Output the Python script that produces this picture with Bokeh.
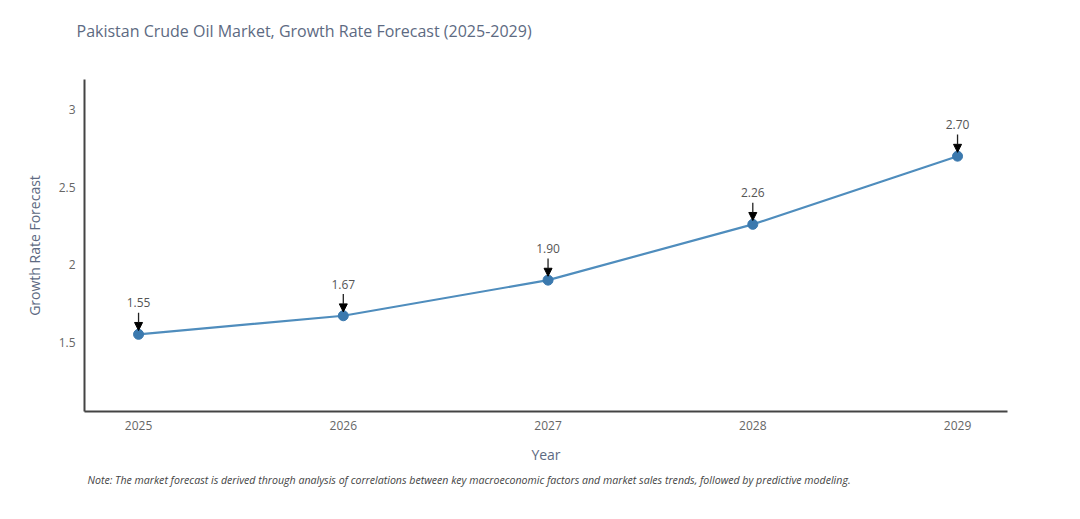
from bokeh.plotting import figure
from bokeh.models import ColumnDataSource, Arrow, NormalHead, FixedTicker, Title, Range1d
from bokeh.core.properties import value
from bokeh.embed import file_html
from bokeh.resources import INLINE

years = [2025, 2026, 2027, 2028, 2029]
growth = [1.55, 1.67, 1.90, 2.26, 2.70]
labels = ["1.55", "1.67", "1.90", "2.26", "2.70"]
y_ticks = [1.5, 2, 2.5, 3]
y_tick_labels = ["1.5", "2", "2.5", "3"]
x_tick_labels = ["2025", "2026", "2027", "2028", "2029"]
title_text = "Pakistan Crude Oil Market, Growth Rate Forecast (2025-2029)"
note_text = ("Note: The market forecast is derived through analysis of correlations between key "
             "macroeconomic factors and market sales trends, followed by predictive modeling.")

FONT = "Open Sans"
TXT = "#5d6a82"

src = ColumnDataSource(dict(
    x=years, y=growth, lab=labels,
    ys=[v + 0.14 for v in growth],
    ye=[v + 0.025 for v in growth],
))

p = figure(width=1064, height=503, output_backend="svg", toolbar_location=None,
           x_range=Range1d(2024.736, 2029.244), y_range=Range1d(1.052, 3.195),
           min_border_left=84, min_border_right=57, min_border_top=79, min_border_bottom=92,
           background_fill_color="white", border_fill_color="white", outline_line_color=None)

p.title.text = title_text
p.title.align = "left"
p.title.offset = -8
p.title.text_font = FONT
p.title.text_font_size = "16px"
p.title.text_font_style = "normal"
p.title.text_color = TXT
p.title.standoff = 10

spacer = Title(text=" ", text_font=FONT, text_font_size="20px", standoff=4, text_color="white")
p.add_layout(spacer, "above")

p.xgrid.visible = False
p.ygrid.visible = False

p.line("x", "y", source=src, line_color="#4f8dbd", line_width=2.2)
p.scatter("x", "y", source=src, size=10, fill_color="#3b79ae", line_color="#3b79ae")

p.add_layout(Arrow(end=NormalHead(size=8, fill_color="black", line_color="black"),
                   x_start="x", y_start="ys", x_end="x", y_end="ye", source=src,
                   line_color="#222222", line_width=1.3))
p.text("x", "y", text="lab", source=src, y_offset=-27, text_align="center",
       text_baseline="bottom", text_font=value(FONT), text_font_size="12px", text_color="#555555")

p.xaxis.ticker = FixedTicker(ticks=years)
p.xaxis.major_label_overrides = {y: s for y, s in zip(years, x_tick_labels)}
p.yaxis.ticker = FixedTicker(ticks=y_ticks)
p.yaxis.major_label_overrides = {t: s for t, s in zip(y_ticks, y_tick_labels)}

for ax in (p.xaxis[0], p.yaxis[0]):
    ax.axis_line_color = "#444444"
    ax.axis_line_width = 2
    ax.major_tick_line_color = None
    ax.minor_tick_line_color = None
    ax.major_label_text_font = FONT
    ax.major_label_text_font_size = "12px"
    ax.major_label_text_color = "#666666"
    ax.axis_label_text_font = FONT
    ax.axis_label_text_font_size = "14px"
    ax.axis_label_text_font_style = "normal"
    ax.axis_label_text_color = TXT

p.xaxis.axis_label = "Year"
p.xaxis.major_label_standoff = 3
p.xaxis.axis_label_standoff = 12
p.yaxis.axis_label = "Growth Rate Forecast"
p.yaxis.major_label_standoff = 3
p.yaxis.axis_label_standoff = 12

note = Title(text=note_text, align="left", offset=3, text_font=FONT, text_font_size="10.6px",
             text_font_style="italic", text_color="#444444", standoff=8)
p.add_layout(note, "below")

open("out.html", "w").write(file_html(p, INLINE))
